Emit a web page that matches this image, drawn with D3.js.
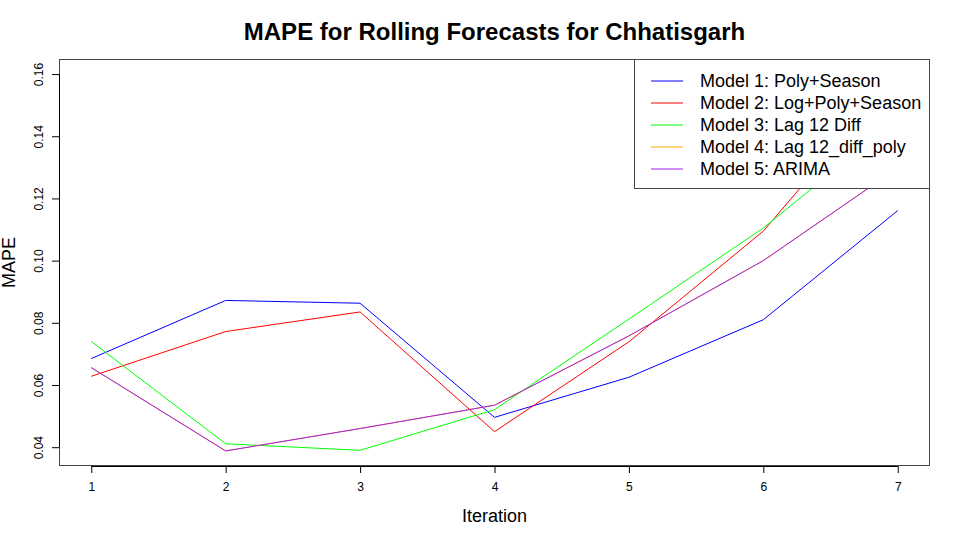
<!DOCTYPE html>
<html><head><meta charset="utf-8">
<script src="https://cdn.jsdelivr.net/npm/d3@7"></script>
<style>body{margin:0;background:#fff}svg{display:block}text{font-family:"Liberation Sans",Arial,sans-serif}</style>
</head><body>
<svg id="c" width="960" height="540"></svg>
<script>
const iterations = [1, 2, 3, 4, 5, 6, 7];
const model1 = [0.0685, 0.0872, 0.0863, 0.0496, 0.0625, 0.0810, 0.1161];
const model2 = [0.0628, 0.0772, 0.0835, 0.0450, 0.0739, 0.1095, 0.1600];
const model3 = [0.0740, 0.0411, 0.0390, 0.0521, 0.0812, 0.1105, 0.1457];
const model4 = [0.0656, 0.0388, 0.0460, 0.0535, 0.0758, 0.1000, 0.1298];
const model5 = [0.0656, 0.0388, 0.0460, 0.0535, 0.0758, 0.1000, 0.1298];
const seriesNames = ["Model 1: Poly+Season", "Model 2: Log+Poly+Season", "Model 3: Lag 12 Diff", "Model 4: Lag 12_diff_poly", "Model 5: ARIMA"];
const seriesColors = ["#0000FF", "#FF0000", "#00FF00", "#FFA500", "#A020F0"];
const yTicks = [0.04, 0.06, 0.08, 0.10, 0.12, 0.14, 0.16];
const series = [model1, model2, model3, model4, model5];

const svg = d3.select("#c");
const L = 59, R = 930, T = 59, B = 466;

const xmin = d3.min(iterations), xmax = d3.max(iterations);
const xpad = (xmax - xmin) * 0.04;
const x = d3.scaleLinear().domain([xmin - xpad, xmax + xpad]).range([L, R]);
const all = series.flat();
const ymin = d3.min(all), ymax = d3.max(all);
const ypad = (ymax - ymin) * 0.04;
const y = d3.scaleLinear().domain([ymin - ypad, ymax + ypad]).range([B, T]);

svg.append("clipPath").attr("id","clip").append("rect").attr("x",L).attr("y",T).attr("width",R-L).attr("height",B-T);

const line = d3.line().x((d,i)=>x(iterations[i])).y(d=>y(d));
const g = svg.append("g").attr("clip-path","url(#clip)");
series.forEach((s,i)=>{
  g.append("path").datum(s).attr("d",line).attr("fill","none")
   .attr("stroke",seriesColors[i]).attr("stroke-width",1);
});

svg.append("rect").attr("x",L+0.5).attr("y",T+0.5).attr("width",R-L-1).attr("height",B-T-1)
  .attr("fill","none").attr("stroke","#444").attr("stroke-width",1);

const xa = svg.append("g").attr("transform",`translate(0,${B})`)
  .call(d3.axisBottom(x).tickValues(iterations).tickSize(7).tickPadding(9).tickFormat(d3.format("d")));
xa.select(".domain").attr("d",`M${x(xmin)},0.5H${x(xmax)}`).attr("stroke","#000");
xa.selectAll("text").attr("font-size",12).attr("fill","#000").attr("font-family","Liberation Sans, Arial, sans-serif");
xa.selectAll(".tick line").attr("stroke","#000");

const ya = svg.append("g").attr("transform",`translate(${L},0)`)
  .call(d3.axisLeft(y).tickValues(yTicks).tickSize(7).tickFormat(d3.format(".2f")));
ya.select(".domain").attr("d",`M0.5,${y(yTicks[0])}V${y(yTicks[yTicks.length-1])}`).attr("stroke","#000");
ya.selectAll(".tick line").attr("stroke","#000");
ya.selectAll(".tick text").attr("font-size",12).attr("fill","#000")
  .attr("font-family","Liberation Sans, Arial, sans-serif").attr("text-anchor","middle")
  .attr("transform","translate(-20,0) rotate(-90)").attr("x",0).attr("y",0).attr("dy","0.35em");

svg.append("text").attr("x",(L+R)/2).attr("y",40).attr("text-anchor","middle")
  .attr("font-size",24).attr("font-weight","bold").text("MAPE for Rolling Forecasts for Chhatisgarh");
svg.append("text").attr("x",(L+R)/2).attr("y",522).attr("text-anchor","middle").attr("font-size",18).text("Iteration");
svg.append("text").attr("transform",`translate(15,${(T+B)/2}) rotate(-90)`).attr("text-anchor","middle").attr("font-size",18).text("MAPE");

const lx = 634.5, ly = T+0.5, lw = R - 0.5 - 634.5, lh = 188 - T;
svg.append("rect").attr("x",lx).attr("y",ly).attr("width",lw).attr("height",lh).attr("fill","#fff").attr("stroke","#444");
seriesNames.forEach((n,i)=>{
  const yy = 81 + i*22;
  svg.append("line").attr("x1",651).attr("x2",683).attr("y1",yy).attr("y2",yy).attr("stroke",seriesColors[i]).attr("stroke-width",1);
  svg.append("text").attr("x",700).attr("y",yy).attr("dy","0.35em").attr("font-size",18).text(n);
});
</script>
</body></html>
